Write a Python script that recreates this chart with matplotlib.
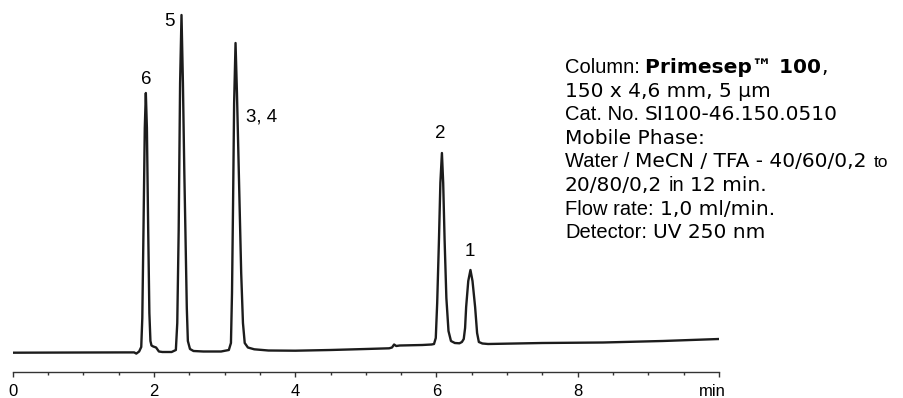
import matplotlib
matplotlib.use("Agg")
import matplotlib.pyplot as plt
from matplotlib.ticker import MultipleLocator

# chromatogram trace: time (min), detector signal (arb. units)
time = [0.00, 1.00, 1.60, 1.72, 1.75, 1.79, 1.82, 1.835, 1.852, 1.87, 1.885,
        1.90, 1.918, 1.935, 1.95, 1.965, 1.99, 2.03, 2.07, 2.12, 2.25, 2.31,
        2.33, 2.35, 2.37, 2.39, 2.41, 2.43, 2.445, 2.465, 2.48, 2.51, 2.56,
        2.70, 2.95, 3.06, 3.09, 3.105, 3.12, 3.135, 3.155, 3.175, 3.195, 3.215,
        3.235, 3.26, 3.285, 3.33, 3.42, 3.62, 4.00, 4.50, 5.00, 5.33, 5.37,
        5.40, 5.43, 5.48, 5.80, 5.93, 5.965, 5.99, 6.01, 6.035, 6.055, 6.077,
        6.095, 6.115, 6.14, 6.17, 6.205, 6.26, 6.325, 6.36, 6.386, 6.405,
        6.42, 6.45, 6.481, 6.51, 6.547, 6.575, 6.60, 6.65, 6.73, 7.50, 8.36,
        9.20, 10.00]
signal = [0.3, 0.5, 0.6, 0.6, -0.6, 1.5, 6, 35, 125, 225, 260,
          225, 125, 40, 12, 7.5, 6.5, 5.5, 1.5, 1.0, 1.0, 3,
          30, 123, 270, 338, 270, 180, 123, 45, 12, 4, 2,
          1.5, 1.5, 3, 10, 60, 150, 250, 310, 260, 200, 140,
          80, 30, 10, 5.5, 3.7, 2.5, 2.3, 3, 4, 4.7, 5.5,
          8.5, 7, 7.5, 8, 8.5, 9, 15, 50, 113, 170, 200,
          170, 113, 55, 22, 12, 10, 9.7, 11, 14, 25,
          46, 72, 83, 72, 46, 20, 11, 9.5, 9, 10, 10.5,
          12, 14]

peak_names = ["6", "5", "3, 4", "2", "1"]
peak_label_t = [1.885, 2.226, 3.31, 6.06, 6.47]
peak_label_s = [273, 332, 236, 220, 101]
peak_label_ha = ["center", "center", "left", "center", "center"]

tick_pos = [0, 2, 4, 6, 8, 10]
tick_text = ["0", "2", "4", "6", "8", ""]

W, H = 904, 398
ARIAL = "Liberation Sans"
VERD = "DejaVu Sans"
fonts = {
    "A": dict(family=ARIAL, size=14.5),
    "As": dict(family=ARIAL, size=12.5),
    "V": dict(family=VERD, size=14.5),
    "VB": dict(family=VERD, size=14.5, weight="bold"),
}
info_lines = [
    [("Column:", "A", 0), ("Primesep\u2122 100", "VB", 5.6), (",", "V", 0)],
    [("150 x 4,6 mm, 5 \u00b5m", "V", 0)],
    [("Cat. No.", "A", 0), ("SI100-46.150.0510", "V", 6)],
    [("Mobile Phase:", "V", 0)],
    [("Water /", "A", 0), ("MeCN / TFA - 40/60/0,2", "V", 6), ("to", "As", 7)],
    [("20/80/0,2", "V", 0), ("in", "A", 6), ("12 min.", "V", 6)],
    [("Flow rate:", "A", 0), ("1,0 ml/min.", "V", 6)],
    [("Detector:", "A", 0), ("UV 250 nm", "V", 6)],
]

fig = plt.figure(figsize=(W / 100, H / 100), dpi=100)
ax = fig.add_axes([12.7 / W, 26 / H, 706.3 / W, 372 / H])
ax.plot(time, signal, color="#1c1c1c", lw=1.7, solid_joinstyle="round")
ax.set_xlim(0, 10)
ax.set_ylim(-19, 353)

for s in ["top", "left", "right"]:
    ax.spines[s].set_visible(False)
ax.spines["bottom"].set_color("#333333")
ax.spines["bottom"].set_linewidth(1.0)
ax.set_yticks([])
ax.set_xticks(tick_pos, tick_text, family=ARIAL, size=12)
ax.xaxis.set_minor_locator(MultipleLocator(0.5))
ax.tick_params(axis="x", which="major", direction="out", length=3.5, width=1.0,
               color="#333333", pad=5.5)
ax.tick_params(axis="x", which="minor", direction="out", length=2, width=1.0,
               color="#333333")
ax.annotate("min", xy=(10, 0), xycoords=("data", "axes fraction"),
            xytext=(-4.5, -9), textcoords="offset points",
            ha="center", va="top", family=ARIAL, size=12)

for name, t, s, ha in zip(peak_names, peak_label_t, peak_label_s, peak_label_ha):
    ax.text(t, s, name, ha=ha, va="center", family=ARIAL, size=13.5)

renderer = fig.canvas.get_renderer()
for i, line in enumerate(info_lines):
    x = 565
    y = 73 + 23.6 * i
    for txt, key, gap in line:
        x += gap
        t = fig.text(x / W, 1 - y / H, txt, ha="left", va="baseline", **fonts[key])
        x += t.get_window_extent(renderer).width

fig.savefig("out.png", dpi=100)
